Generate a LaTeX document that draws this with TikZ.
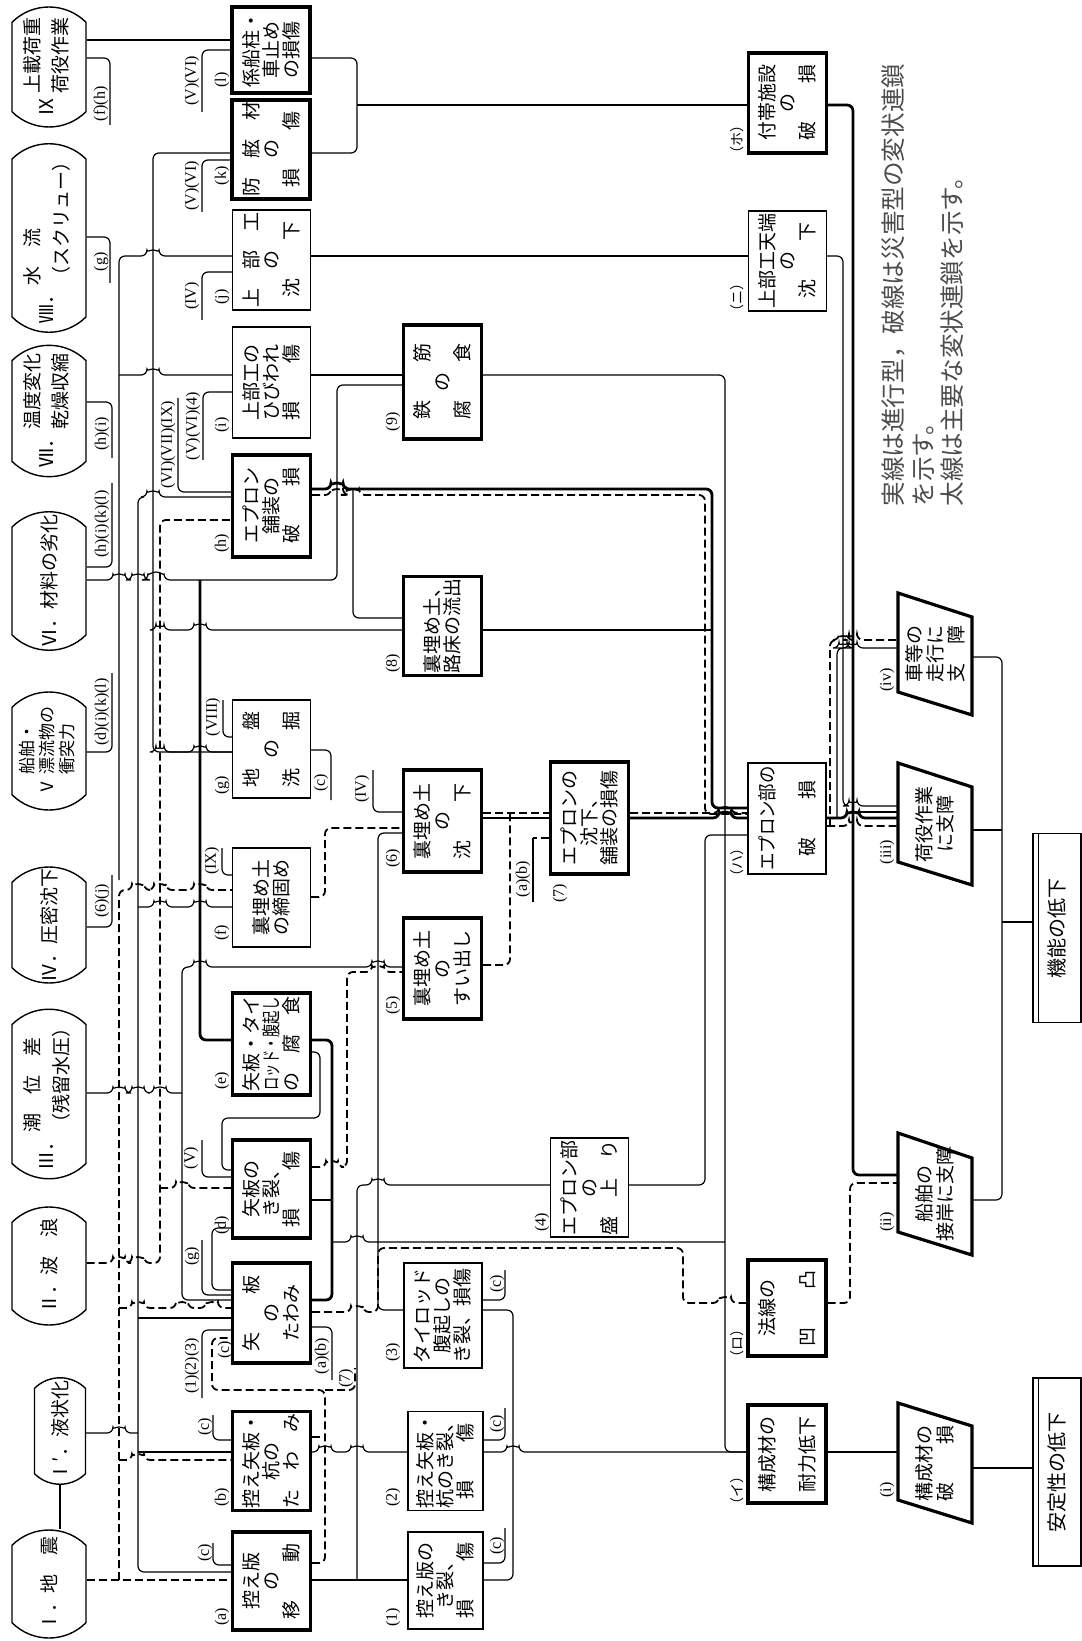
\documentclass[tikz,border=0pt]{standalone}
\usepackage{fontspec}
\usepackage{graphicx}
\newfontfamily\jpfont{Noto Sans CJK JP}
\newfontfamily\numfont{Liberation Serif}
\usetikzlibrary{shapes.misc,calc}

% small bridge where a line jumps over another one
\newcommand{\hop}[2]{-- ({#1-6},#2) arc[start angle=180,end angle=360,radius=6]}
\newcommand{\hopr}[3]{-- ({#2-#1},#3) arc[start angle=180,end angle=360,radius=#1]}

\tikzset{
  box/.style={draw, line width=0.7pt, rotate=90, minimum height=39pt, inner sep=1pt,
    align=center, font=\jpfont\fontsize{9.5}{10}\selectfont},
  mainbox/.style={box, line width=1.6pt},
  cause/.style={draw, line width=0.7pt, rounded rectangle, rounded rectangle arc length=90,
    rotate=90, minimum height=37pt, inner sep=1pt, align=left,
    font=\jpfont\fontsize{9.5}{11}\selectfont},
  etext/.style={rotate=90, inner sep=0pt, minimum height=37pt, minimum width=48pt,
    align=center, font=\jpfont\fontsize{9.5}{10.5}\selectfont},
  lab/.style={rotate=90, inner sep=0pt, font=\numfont\fontsize{8}{9}\selectfont},
  klab/.style={rotate=90, inner sep=0pt, font=\jpfont\fontsize{7}{8}\selectfont},
  conn/.style={line width=0.6pt, rounded corners=3pt},
  mainconn/.style={line width=1.4pt, rounded corners=3pt},
  dconn/.style={line width=0.9pt, rounded corners=3pt, dash pattern=on 4pt off 2pt},
}

\begin{document}
\begin{tikzpicture}[x=0.5pt,y=-0.5pt]
\useasboundingbox (0,0) rectangle (1081,1641);

% causes
\node[cause, minimum width=62pt] (cIX) at (49,67) {Ⅸ\ \begin{tabular}{@{}l@{}}上載荷重\\[3pt]荷役作業\end{tabular}};
\node[cause, minimum width=58pt] (cVIII) at (49,238) {Ⅷ．\begin{tabular}{@{}l@{}}水　流\\[3pt]（スクリュー）\end{tabular}};
\node[cause, minimum width=61pt] (cVII) at (49,411) {Ⅶ．\begin{tabular}{@{}l@{}}温度変化\\[3pt]乾燥収縮\end{tabular}};
\node[cause, minimum width=66pt] (cVI) at (49,581) {Ⅵ．材料の劣化};
\node[cause, minimum width=61pt, font=\jpfont\fontsize{8.5}{9}\selectfont] (cV) at (49,751) {Ⅴ\ \begin{tabular}{@{}l@{}}船舶・\\漂流物の\\衝突力\end{tabular}};
\node[cause, minimum width=60pt] (cIV) at (49,925) {Ⅳ．圧密沈下};
\node[cause, minimum width=64pt] (cIII) at (49,1094) {Ⅲ．\begin{tabular}{@{}l@{}}潮　位　差\\[3pt]（残留水圧）\end{tabular}};
\node[cause, minimum width=61pt] (cII) at (49,1266) {Ⅱ．波　浪};
\node[cause, minimum width=51pt, minimum height=25.5pt] (cIp) at (60,1431) {Ⅰ′．液状化};
\node[cause, minimum width=56pt] (cI) at (49,1584) {Ⅰ．地　震};

% damage, first row
\node[mainbox, minimum width=43pt] (bl) at (271,50) {係船柱・\\車止め\\の損傷};
\node[mainbox, minimum width=42.5pt] (bk) at (271,149.5) {防　舷　材\\の\\損　　傷};
\node[box, minimum width=50pt] (bj) at (271.5,260) {上　部　工\\の\\沈　　下};
\node[box, minimum width=55.5pt] (bi) at (271.5,382.5) {上部工の\\ひびわれ\\損　　傷};
\node[mainbox, minimum width=51pt] (bh) at (271.5,506) {エプロン\\舗装の\\破　　損};
\node[box, minimum width=49pt] (bg) at (271.5,749) {地　　盤\\の\\洗　　掘};
\node[box, minimum width=49.5pt] (bf) at (271.5,897.5) {裏埋め土\\の締固め};
\node[mainbox, minimum width=51pt] (be) at (271.5,1044) {矢板・タイ\\\scalebox{0.7}[1]{ロッド・腹起し}\\の　腐　食};
\node[mainbox, minimum width=49pt] (bd) at (271.5,1189) {矢板の\\き裂、\\損　　傷};
\node[mainbox, minimum width=50pt] (bc) at (271.5,1313) {矢　　板\\の\\たわみ};
\node[mainbox, minimum width=49pt] (bb) at (271.5,1461) {控え矢板・\\杭の\\た　わ　み};
\node[mainbox, minimum width=49pt] (ba) at (271.5,1581) {控え版\\の\\移　　動};

% damage, second row
\node[mainbox, minimum width=57pt] (b9) at (442.5,382) {鉄　　筋\\の\\腐　　食};
\node[mainbox, minimum width=49pt] (b8) at (442.5,626) {裏埋め土、\\路床の流出};
\node[mainbox, minimum width=51pt] (b6) at (442.5,821) {裏埋め土\\の\\沈　　下};
\node[mainbox, minimum width=50.5pt] (b5) at (442.5,968.5) {裏埋め土\\の\\すい出し};
\node[box, minimum width=52.5pt] (b3) at (443,1315.5) {タイロッド\\腹起しの\\き裂、損傷};
\node[box, minimum width=49pt, minimum height=37.5pt] (b2) at (445.5,1461) {控え矢板・\\杭のき裂、\\損　　傷};
\node[box, minimum width=48.5pt, minimum height=37.5pt] (b1) at (445.5,1580.5) {控え版の\\き裂、\\損　　傷};
\node[mainbox, minimum width=56pt] (b7) at (589.5,818) {エプロンの\\沈下、\\舗装の損傷};
\node[box, minimum width=49.5pt] (b4) at (589.5,1187.5) {エプロン部\\の\\盛　上　り};

% damage, third row
\node[mainbox, minimum width=50pt] (bHo) at (787.5,103) {付帯施設\\の\\破　　損};
\node[box, minimum width=50pt] (bNi) at (787.5,261) {上部工天端\\の\\沈　　下};
\node[box, minimum width=55.5pt, line width=1pt] (bHa) at (787,818.5) {\scalebox{0.92}[1]{エプロン部の}\\[10pt]破　　損};
\node[mainbox, minimum width=48pt] (bRo) at (787,1308) {法線の\\[10pt]凹　　凸};
\node[mainbox, minimum width=49pt] (bI) at (787,1454) {構成材の\\[10pt]耐力低下};

% loss of function
\draw[line width=1.6pt] (898,593) -- (972,617) -- (972,715) -- (898,692) -- cycle;
\node[etext] (e4) at (935,654) {車等の\\走行に\\支　障};
\draw[line width=1.6pt] (898,763) -- (972,787) -- (972,885) -- (898,862) -- cycle;
\node[etext] (e3) at (935,824) {荷役作業\\に支障};
\draw[line width=1.6pt] (898,1133) -- (972,1158) -- (972,1255) -- (898,1232) -- cycle;
\node[etext] (e2) at (935,1194) {船舶の\\接岸に支障};
\draw[line width=1.6pt] (898,1403) -- (972,1426) -- (972,1523) -- (898,1500) -- cycle;
\node[etext] (e1) at (935,1463) {構成材の\\破　　損};

\node[draw, line width=0.7pt, rotate=90, minimum width=94.5pt, minimum height=24pt,
  font=\jpfont\fontsize{10}{12}\selectfont] (kino) at (1057,928) {機能の低下};
\draw[line width=0.7pt] ($(kino.north west)+(6,0)$) -- ($(kino.north east)+(6,0)$);
\node[draw, line width=0.7pt, rotate=90, minimum width=94pt, minimum height=24pt,
  font=\jpfont\fontsize{10}{12}\selectfont] (antei) at (1057,1472) {安定性の低下};
\draw[line width=0.7pt] ($(antei.north west)+(6,0)$) -- ($(antei.north east)+(6,0)$);

% note
\node[rotate=90, anchor=west, inner sep=0pt, text=black!70,
  font=\jpfont\fontsize{12.3}{15}\selectfont] (note1) at (893,507) {実線は進行型，破線は災害型の変状連鎖};
\node[rotate=90, anchor=west, inner sep=0pt, text=black!70,
  font=\jpfont\fontsize{12.3}{15}\selectfont] (note2) at (924,507) {を示す。};
\node[rotate=90, anchor=west, inner sep=0pt, text=black!70,
  font=\jpfont\fontsize{12.3}{15}\selectfont] (note3) at (952,507) {太線は主要な変状連鎖を示す。};

% item labels
\foreach \n/\t/\x/\y in {l/(l)/222/80, k/(k)/222/176, j/(j)/222/297, i/(i)/222/425,
    h/(h)/222/543, g/(g)/222/785, f/(f)/222/933, e/(e)/222/1081, d/(d)/222/1225,
    c/(c)/225/1350, b/(b)/222/1497, a/(a)/222/1617,
    9/(9)/393/422, 8/(8)/393/663, 6/(6)/393/858, 5/(5)/393/1005, 3/(3)/393/1352,
    2/(2)/393/1497, 1/(1)/393/1617, 7/(7)/560/893, 4/(4)/542/1222,
    iv/(iv)/887/680, iii/(iii)/887/852, ii/(ii)/887/1222, ie/(i)/887/1490}
  \node[lab] (lab\n) at (\x,\y) {\t};
\foreach \n/\t/\y in {ho/ホ/140, ni/ニ/298, ha/ハ/862, ro/ロ/1343, ii/イ/1490}
  \node[klab] (klab\n) at (737,\y) {（\t）};

% reference marks
\draw[conn] (cIX.south |- 0,58) -- (110,58) -- (110,125);
\node[lab] (rIX) at (101,104) {(f)(h)};
\draw[conn] (cVIII.south |- 0,237) -- (110,237) -- (110,283);
\node[lab] (rVIII) at (101,262) {(g)};
\draw[conn] (cVII.south |- 0,402) -- (112,402) -- (112,458);
\node[lab] (rVII) at (102,434) {(h)(i)};
\draw[conn] (cVI.south |- 0,567) -- (112,567) -- (112,483);
\node[lab] (rVI) at (102,524) {(h)(i)(k)(l)};
\draw[conn] (cV.south |- 0,752) -- (112,752) -- (112,673);
\node[lab] (rV) at (102,712) {(d)(i)(k)(l)};
\draw[conn] (cIV.south |- 0,927) -- (112,927) -- (112,875);
\node[lab] (rIV) at (102,901) {(6)(j)};
\draw[conn] (bl.north |- 0,50) -- (202,50) -- (202,112);
\node[lab] (rl) at (192,81) {(V)(VI)};
\draw[conn] (bk.north |- 0,160) -- (202,160) -- (202,212);
\node[lab] (rk) at (192,186) {(V)(VI)};
\draw[conn] (bj.north |- 0,272) -- (202,272) -- (202,320);
\node[lab] (rj) at (192,296) {(IV)};
\draw[conn] (bi.north |- 0,392) -- (203,392) -- (203,460);
\node[lab] (ri) at (193,426) {(V)(VI)(4)};
\draw[conn] (bh.north |- 0,492) -- (178,492) -- (178,398);
\node[lab] (rh) at (168,445) {(VI)(VII)(IX)};
\draw[conn] (bg.north |- 0,737) -- (223,737) -- (223,700);
\node[lab] (rg) at (213,717) {(VIII)};
\draw[conn] (bg.south |- 0,750) -- (331,750) -- (331,800);
\node[lab] (rgc) at (321,783) {(c)};
\draw[conn] (bf.north |- 0,875) -- (222,875) -- (222,848);
\node[lab] (rf) at (212,861) {(IX)};
\draw[conn] (bd.north |- 0,1177) -- (202,1177) -- (202,1140);
\node[lab] (rd) at (191,1158) {(V)};
\draw[conn] (bc.north |- 0,1295) -- (202,1295) -- (202,1240);
\node[lab] (rcg) at (192,1256) {(g)};
\draw[conn] (bc.north |- 0,1330) -- (202,1330) -- (202,1398);
\node[lab] (rc) at (192,1366) {(1)(2)(3)};
\draw[conn] (bc.south |- 0,1327) -- (332,1327) -- (332,1380);
\node[lab] (rcab) at (322,1356) {(a)(b)};
\draw[conn] (bb.north |- 0,1440) -- (213,1440) -- (213,1415);
\node[lab] (rb) at (205,1427) {(c)};
\draw[conn] (ba.north |- 0,1565) -- (213,1565) -- (213,1543);
\node[lab] (ra) at (205,1553) {(c)};
\draw[conn] (b6.north |- 0,812) -- (373,812) -- (373,770);
\node[lab] (r6) at (362,789) {(IV)};
\draw[dconn] (b7.north |- 0,838) -- (533,838);
\draw[conn] (533,838) -- (533,902);
\node[lab] (r7) at (523,879) {(a)(b)};
\draw[conn] (b3.south |- 0,1300) -- (505,1300) -- (505,1270);
\node[lab] (r3) at (497,1284) {(c)};
\draw[conn] (b2.south |- 0,1440) -- (505,1440) -- (505,1408);
\node[lab] (r2) at (497,1424) {(c)};
\draw[conn] (b1.south |- 0,1563) -- (505,1563) -- (505,1528);
\node[lab] (r1) at (497,1546) {(c)};

% progressive chains
\draw[conn] (cIX.south |- 0,40) -- (bl.north |- 0,40);
\draw[conn] (bl.south |- 0,58) -- (357,58) -- (357,153) -- (bk.south |- 0,153);
\draw[conn] (357,105) -- (bHo.north |- 0,105);
\draw[mainconn] (bHo.south |- 0,105) -- (853,105) -- (853,1175) -- (e2.north |- 0,1175);
\draw[conn] (853,812) -- (e3.north |- 0,812);
\draw[conn] (bj.south |- 0,256) -- (bNi.north |- 0,256);
\draw[conn] (bNi.south |- 0,256) -- (843,256) -- (843,806) \hopr{4}{853}{806} -- (e3.north |- 0,806);
\draw[conn] (119,880) -- (119,256) \hop{153}{256} -- (bj.north |- 0,256);
\draw[conn] (119,375) \hop{153}{375} -- (bi.north |- 0,375);
\draw[conn] (bi.south |- 0,375) -- (b9.north |- 0,375);
\draw[conn] (cVI.south |- 0,580) \hop{119}{580} \hop{138}{580} \hopr{8}{156}{580} -- (337,580) -- (337,385) -- (b9.north |- 0,385);
\draw[mainconn] (200,580) -- (200,1040) -- (be.north |- 0,1040);
\draw[conn] (b9.south |- 0,375) -- (725,375) -- (725,1452) -- (bI.north |- 0,1452);
\draw[conn] (bg.north |- 0,752) -- (153,752) -- (153,153) -- (bk.north |- 0,153);
\draw[conn] (153,752) \hopr{4}{160}{752} \hop{200}{752} -- (bg.north |- 0,752);
\draw[conn] (153,630) \hopr{4}{160}{630} \hop{200}{630} -- (b8.north |- 0,630);
\draw[conn] (b8.south |- 0,630) -- (712,630);
\draw[mainconn] (bh.south |- 0,489) \hop{337}{489} -- (712,489) -- (712,808) -- (bHa.north |- 0,808);
\draw[conn] (353,489) -- (353,618) -- (b8.north |- 0,618);
\draw[conn] (ba.north |- 0,1572) -- (138,1572) -- (138,497) \hop{153}{497} -- (bh.north |- 0,497);
\draw[conn] (138,907) \hop{160}{907} \hop{200}{907} -- (bf.north |- 0,907);
\draw[conn] (138,1318) -- (bc.north |- 0,1318);
\draw[conn] (138,1452) -- (bb.north |- 0,1452);
\draw[conn] (cIp.south |- 0,1433) \hop{119}{1433} -- (138,1433);
\draw[conn] (cIp.west) -- (cIp.west |- cI.east);
\draw[conn] (cIII.south |- 0,1093) \hop{119}{1093} \hop{138}{1093} \hop{160}{1093} -- (182,1093);
\draw[conn] (bc.north |- 0,1300) -- (182,1300) -- (182,967) \hop{200}{967} \hop{378}{967} -- (b5.north |- 0,967);
\draw[mainconn] (be.south |- 0,1040) -- (332,1040) -- (332,1300) -- (bc.south |- 0,1300);
\draw[conn] (332,1242) \hop{357}{1242} -- (725,1242);
\draw[conn] (bd.south |- 0,1200) -- (332,1200);
\draw[conn] (be.south |- 0,1052) -- (320,1052) -- (320,1118) -- (222,1118) -- (222,1170) -- (bd.north |- 0,1170);
\draw[conn] (bd.north |- 0,1228) -- (212,1228) -- (212,1290) -- (bc.north |- 0,1290);
\draw[conn] (ba.south |- 0,1580) -- (b1.north |- 0,1580);
\draw[conn] (357,1580) -- (357,1185) \hop{378}{1185} -- (b4.north |- 0,1185);
\draw[conn] (b4.south |- 0,1185) -- (705,1185) -- (705,835) -- (bHa.north |- 0,835);
\draw[conn] (b1.south |- 0,1580) -- (513,1580) -- (513,1310) -- (b3.south |- 0,1310);
\draw[conn] (378,1242) -- (378,833) -- (b6.north |- 0,833);
\draw[conn] (378,1242) -- (378,1310) -- (b3.north |- 0,1310);
\draw[conn] (bb.south |- 0,1452) \hop{325}{1452} \hop{357}{1452} -- (b2.north |- 0,1452);
\draw[conn] (b2.south |- 0,1452) \hop{513}{1452} -- (bI.north |- 0,1452);
\draw[mainconn] (bI.south |- 0,1452) -- (e1.north |- 0,1452);
\draw[conn] (e1.south |- 0,1468) -- (antei.north |- 0,1468);
\draw[mainconn] (b6.south |- 0,818) -- (b7.north |- 0,818);
\draw[mainconn] (b7.south |- 0,818) \hop{725}{818} -- (bHa.north |- 0,818);
\draw[mainconn] (bHa.south |- 0,818) \hop{853}{818} -- (e3.north |- 0,818);
\draw[conn] (837,818) -- (837,648) \hopr{4}{843}{648} \hopr{4}{853}{648} -- (e4.north |- 0,648);
\draw[conn] (e4.south |- 0,657) -- (1002,657) -- (1002,1200) -- (e2.south |- 0,1200);
\draw[conn] (e3.south |- 0,830) -- (1002,830);
\draw[conn] (1002,922) -- (kino.north |- 0,922);

% disaster chains
\draw[dconn] (cI.south |- 0,1580) -- (ba.north |- 0,1580);
\draw[dconn] (119,1580) -- (119,890) \hop{138}{890} \hop{160}{890} \hop{200}{890} -- (bf.north |- 0,890);
\draw[dconn] (119,1308) \hop{138}{1308} \hop{182}{1308} \hop{212}{1308} -- (bc.north |- 0,1308);
\draw[dconn] (119,1460) \hop{138}{1460} -- (bb.north |- 0,1460);
\draw[dconn] (cII.south |- 0,1263) \hop{119}{1263} \hop{138}{1263} -- (160,1263) -- (160,520) -- (bh.north |- 0,520);
\draw[dconn] (160,1188) \hop{182}{1188} -- (bd.north |- 0,1188);
\draw[dconn] (bh.south |- 0,495) \hop{337}{495} \hop{353}{495} -- (705,495) -- (705,814) -- (bHa.north |- 0,814);
\draw[dconn] (bf.south |- 0,897) -- (325,897) -- (325,828) -- (b6.north |- 0,828);
\draw[dconn] (b6.south |- 0,813) -- (b7.north |- 0,813);
\draw[dconn] (b7.south |- 0,813) \hop{725}{813} -- (bHa.north |- 0,813);
\draw[dconn] (bHa.south |- 0,826) \hopr{4}{853}{826} -- (e3.north |- 0,826);
\draw[dconn] (830,826) -- (830,640) \hopr{4}{843}{640} \hopr{4}{853}{640} -- (e4.north |- 0,640);
\draw[dconn] (b5.south |- 0,965) -- (510,965) -- (510,813);
\draw[dconn] (bd.south |- 0,1167) \hop{332}{1167} -- (347,1167) -- (347,972) \hop{378}{972} -- (b5.north |- 0,972);
\draw[dconn] (bc.south |- 0,1312) \hop{357}{1312} -- (378,1312) -- (378,1248) -- (683,1248) -- (683,1303) \hop{725}{1303} -- (bRo.north |- 0,1303);
\draw[dconn] (bRo.south |- 0,1303) -- (850,1303) -- (850,1183) -- (e2.north |- 0,1183);
\draw[dconn] (ba.south |- 0,1563) -- (325,1563) -- (325,1390) -- (212,1390) -- (212,1338) -- (bc.north |- 0,1338);
\draw[dconn] (bb.south |- 0,1437) -- (325,1437);
\draw[dconn] (325,1390) -- (355,1390) -- (355,1368);
\node[lab] (r7b) at (346,1378) {(7)};
\end{tikzpicture}
\end{document}
